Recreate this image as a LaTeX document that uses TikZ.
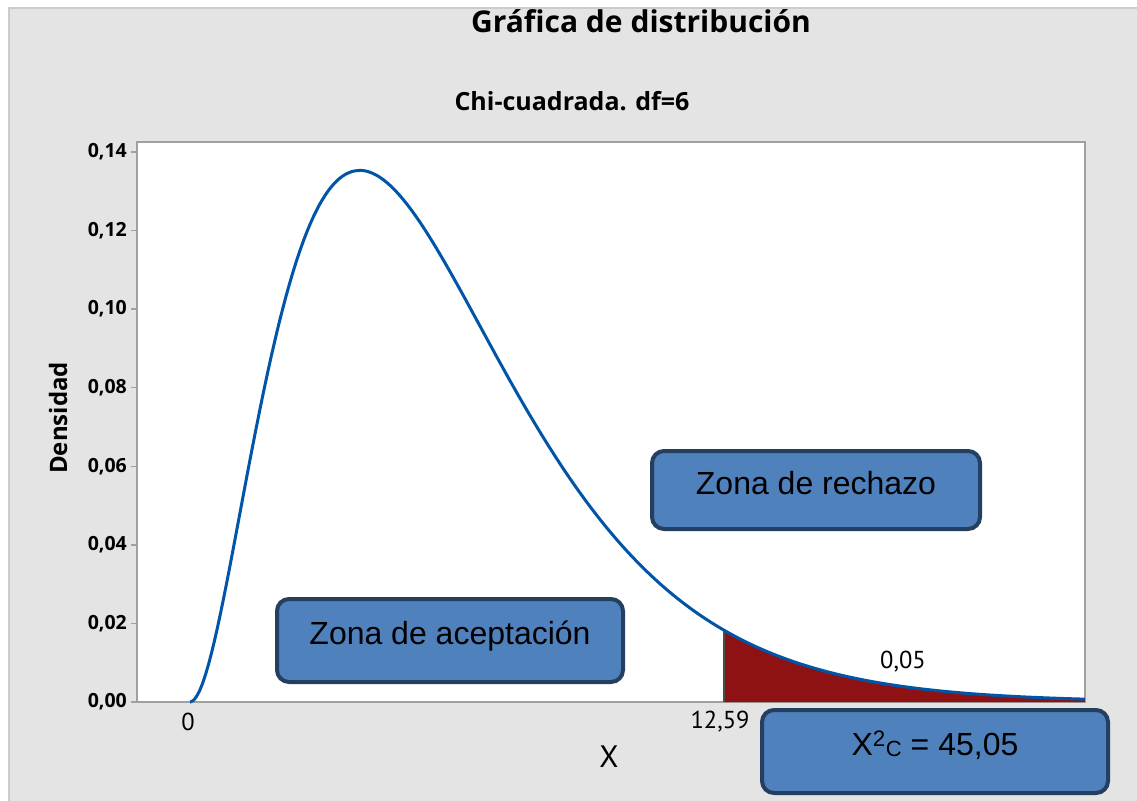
\documentclass[tikz,border=0pt]{standalone}
\usepackage{fontspec}
\setmainfont{Liberation Sans}
\newfontfamily\ptsans{PT Sans}
\newfontfamily\opensans{Open Sans}
\usetikzlibrary{positioning}
\definecolor{fondo}{HTML}{E4E4E4}
\definecolor{marco}{HTML}{CCCCCC}
\definecolor{eje}{HTML}{A0A0A0}
\definecolor{curva}{HTML}{0055A8}
\definecolor{rojo}{HTML}{8E1214}
\definecolor{cajafill}{HTML}{4F81BD}
\definecolor{cajaborde}{HTML}{243F60}

\begin{document}
\begin{tikzpicture}[x=1pt,y=-1pt,
    zona/.style={draw=cajaborde, fill=cajafill, line width=4pt, rounded corners=12pt,
      minimum width=346pt, minimum height=83pt, text height=24pt, text depth=16pt,
      font=\fontsize{32}{32}\selectfont},
    marca/.style={font=\opensans\bfseries\fontsize{19.5}{19.5}\selectfont, anchor=east, inner sep=0pt},
    rotulo/.style={font=\ptsans\fontsize{24.5}{24.5}\selectfont, inner sep=0pt}]
    \useasboundingbox (0,0) rectangle (1137,800);
    \fill[white] (0,0) rectangle (1137,800);
    \draw[marco, fill=fondo, line width=2pt] (9,803) -- (9,8) -- (1140,8) -- (1140,803) -- cycle;

    % area del grafico
    \draw[eje, line width=1.5pt, fill=white] (137,142) rectangle (1085,702);
    \foreach \v/\d in {0/00, 0.02/02, 0.04/04, 0.06/06, 0.08/08, 0.10/10, 0.12/12, 0.14/14} {
        \draw[eje, line width=1.5pt] (131,702-3929*\v) -- (137,702-3929*\v);
        \node[marca] (y\d) at (127,702-3929*\v) {0,\d};
    }

    % zona de rechazo y curva chi-cuadrada
    \fill[rojo] (724,702) -- plot[domain=12.59:21.1, samples=60]
        ({190+42.41*\x}, {702-exp(2*ln(\x)-\x/2+5.5035)}) -- (1085,702) -- cycle;
    \draw[gray!60!black, line width=2pt] (724,702) -- (724,630.2);
    \draw[curva, line width=3pt, line join=round] (190,702) -- plot[domain=0.01:21.1, samples=300]
        ({190+42.41*\x}, {702-exp(2*ln(\x)-\x/2+5.5035)});

    \node[font=\opensans\bfseries\fontsize{30}{30}\selectfont] (titulo) at (641,21) {Gráfica de distribución};
    \node[font=\opensans\bfseries\fontsize{25}{25}\selectfont] (subtitulo) at (572,101) {Chi-cuadrada. df=6};
    \node[rotate=90, font=\opensans\bfseries\fontsize{24}{24}\selectfont] (densidad) at (58,418) {Densidad};
    \node[rotulo] (cero) at (188,722) {0};
    \node[rotulo] (critico) at (720,722) {12,59};
    \node[rotulo] (alfa) at (903,662) {0,05};
    \node[rotulo, font=\ptsans\fontsize{31}{31}\selectfont] (equis) at (609,757) {X};

    \node[zona, minimum width=328pt, minimum height=78pt] (rechazo) at (816,490) {Zona de rechazo};
    \node[zona] (aceptacion) at (450,640.5) {Zona de aceptación};
    \node[zona] (estadistico) at (935,751.5) {X\textsuperscript{2}\raisebox{-1pt}{\fontsize{22}{22}\selectfont C} = 45,05};
\end{tikzpicture}
\end{document}
